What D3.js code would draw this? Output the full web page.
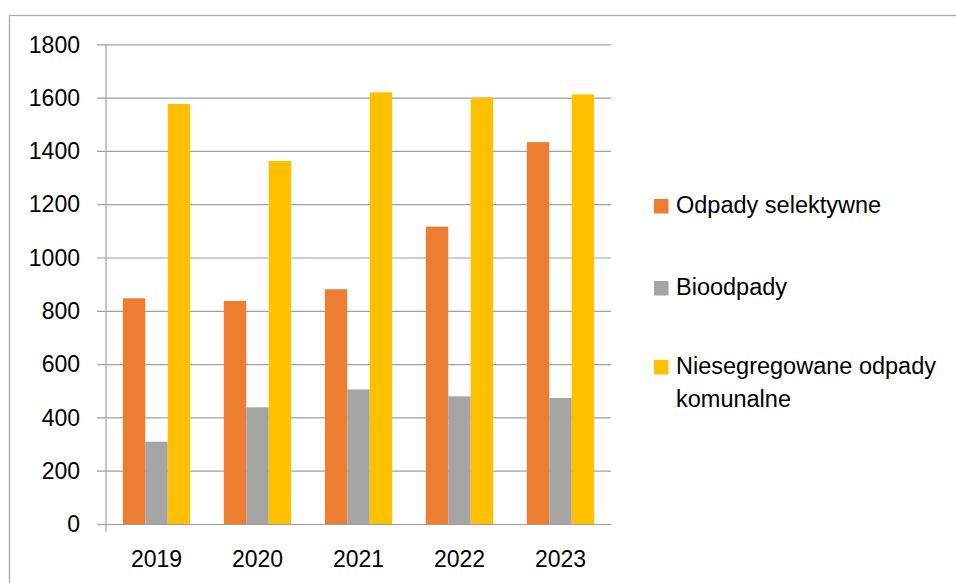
<!DOCTYPE html>
<html>
<head>
<meta charset="utf-8">
<script src="https://cdn.jsdelivr.net/npm/d3@7"></script>
<style>
    body { margin: 0; background: #fff; }
    text { font-family: "Liberation Sans", Arial, sans-serif; fill: #000; }
    .axisLabel { font-size: 23px; }
    .legend { font-size: 23.5px; }
</style>
</head>
<body>
<div id="chart"></div>
<script>
const years = ["2019", "2020", "2021", "2022", "2023"];
const seriesNames = ["Odpady selektywne", "Bioodpady", "Niesegregowane odpady komunalne"];
const selektywne = [847, 837, 881, 1116, 1433];
const bioodpady = [309, 438, 505, 479, 473];
const niesegregowane = [1576, 1362, 1620, 1600, 1612];
const colors = ["#ED7D31", "#A5A5A5", "#FFC000"];
const yTicks = [0, 200, 400, 600, 800, 1000, 1200, 1400, 1600, 1800];

const values = [selektywne, bioodpady, niesegregowane];

let width = 956, height = 583;
let plot = {left: 106, right: 611, top: 44.3, bottom: 524};

let svg = d3.select("#chart")
    .append("svg")
    .attr("width", width)
    .attr("height", height);

// outer chart border (cut off at right and bottom)
svg.append("rect")
    .attr("x", 9.5)
    .attr("y", 15.5)
    .attr("width", 1000)
    .attr("height", 1000)
    .attr("fill", "none")
    .attr("stroke", "#ababab")
    .attr("stroke-width", 1.3);

let y = d3.scaleLinear()
    .domain([0, 1800])
    .range([plot.bottom, plot.top]);

let x0 = d3.scaleBand()
    .domain(years)
    .range([plot.left, plot.right])
    .paddingInner(1/3)
    .paddingOuter(1/6);

let x1 = d3.scaleBand()
    .domain(seriesNames)
    .range([0, x0.bandwidth()]);

// gridlines + left ticks
svg.append("g")
    .attr("transform", `translate(${plot.left}, 0)`)
    .call(d3.axisLeft(y).tickValues(yTicks).tickSize(-(plot.right - plot.left)).tickSizeOuter(0).tickFormat(""))
    .call(g => g.select(".domain").remove())
    .call(g => g.selectAll(".tick line").attr("x1", -9).attr("stroke", "#a0a0a0").attr("stroke-width", 1.2));

// y labels
svg.selectAll(".yLabel")
    .data(yTicks)
    .join("text")
    .attr("class", "axisLabel")
    .attr("x", 80)
    .attr("y", d => y(d))
    .attr("dy", "0.36em")
    .attr("text-anchor", "end")
    .text(d => d);

// bars
years.forEach((yr, i) => {
    svg.selectAll(".bar" + yr)
        .data(seriesNames)
        .join("rect")
        .attr("x", s => x0(yr) + x1(s))
        .attr("y", (s, j) => y(values[j][i]))
        .attr("width", x1.bandwidth())
        .attr("height", (s, j) => y(0) - y(values[j][i]))
        .attr("fill", (s, j) => colors[j]);
});

// y axis line
svg.append("line")
    .attr("x1", plot.left)
    .attr("x2", plot.left)
    .attr("y1", plot.top)
    .attr("y2", plot.bottom + 8)
    .attr("stroke", "#a0a0a0")
    .attr("stroke-width", 1.2);

// category labels
svg.selectAll(".xLabel")
    .data(years)
    .join("text")
    .attr("class", "axisLabel")
    .attr("x", d => x0(d) + x0.bandwidth() / 2)
    .attr("y", 566.5)
    .attr("text-anchor", "middle")
    .text(d => d);

// legend
let legendRows = [
    {lines: ["Odpady selektywne"], y: 213},
    {lines: ["Bioodpady"], y: 295},
    {lines: ["Niesegregowane odpady", "komunalne"], y: 374}
];

legendRows.forEach((row, i) => {
    svg.append("rect")
        .attr("x", 654)
        .attr("y", row.y - 14)
        .attr("width", 14.5)
        .attr("height", 14.5)
        .attr("fill", colors[i]);

    let t = svg.append("text")
        .attr("class", "legend")
        .attr("x", 676)
        .attr("y", row.y);
    row.lines.forEach((l, k) => {
        t.append("tspan")
            .attr("x", 676)
            .attr("dy", k === 0 ? 0 : 32.5)
            .text(l);
    });
});
</script>
</body>
</html>
